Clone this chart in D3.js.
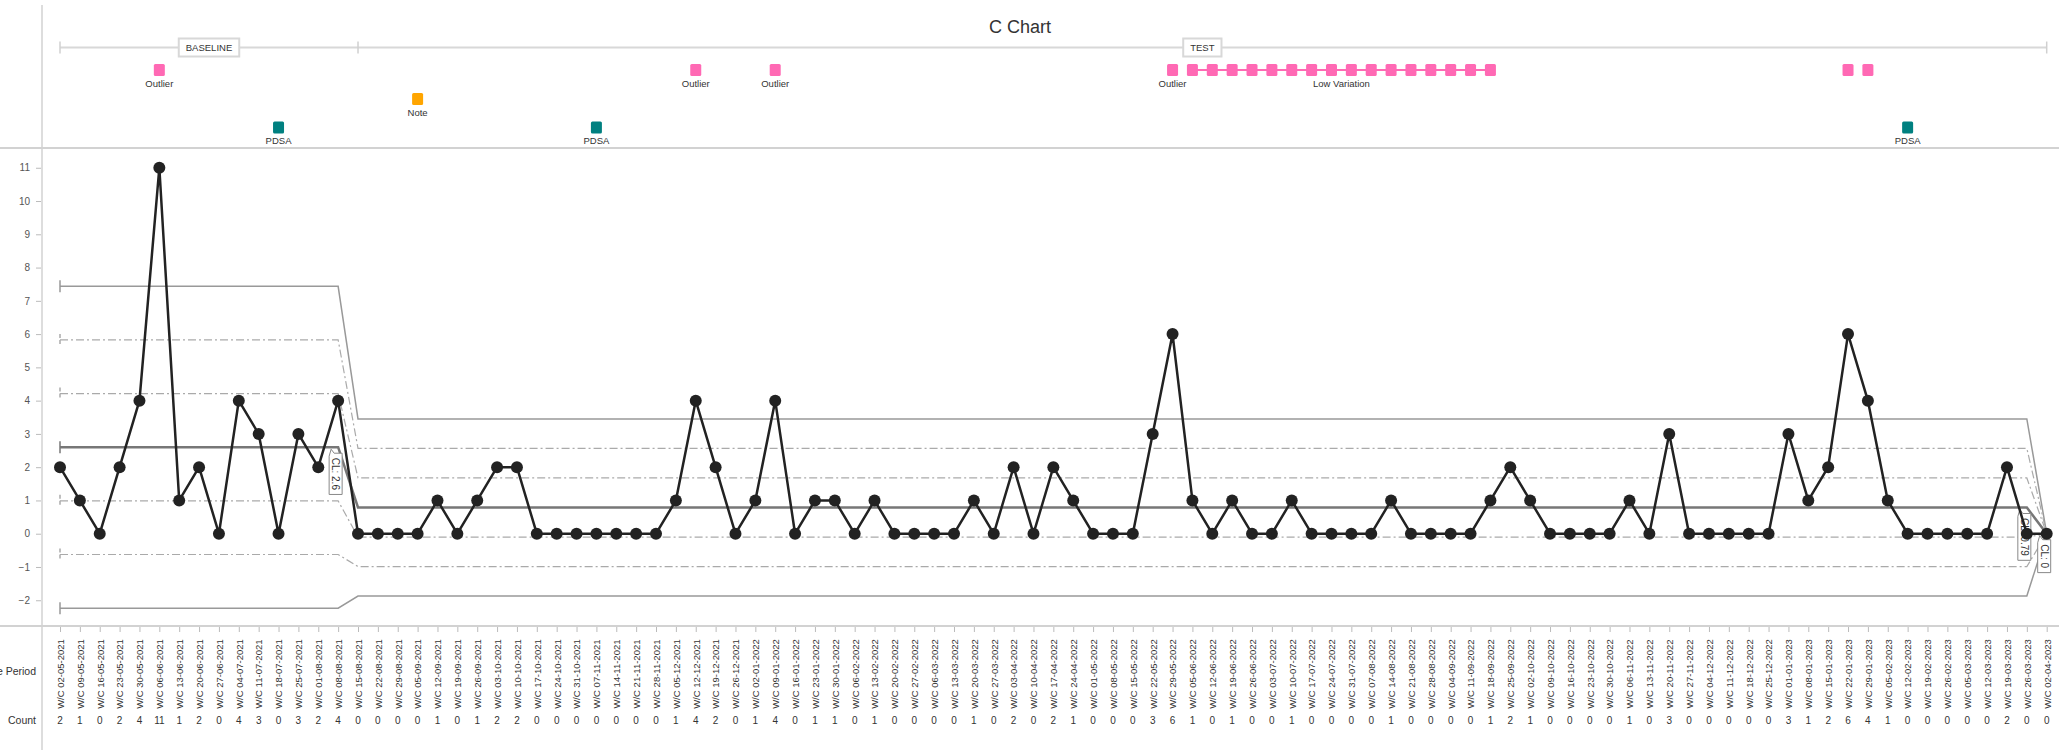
<!DOCTYPE html>
<html>
<head>
<meta charset="utf-8">
<script src="https://cdn.jsdelivr.net/npm/d3@7"></script>
<style>
  body { margin: 0; background: #fff; }
  svg { display: block; font-family: "Liberation Sans", Arial, sans-serif; }
</style>
</head>
<body>
<svg id="chart" width="2059" height="750"></svg>
<script>
"use strict";

// weekly categories
const weeks = [
    "W/C 02-05-2021", "W/C 09-05-2021", "W/C 16-05-2021", "W/C 23-05-2021", "W/C 30-05-2021",
    "W/C 06-06-2021", "W/C 13-06-2021", "W/C 20-06-2021", "W/C 27-06-2021", "W/C 04-07-2021",
    "W/C 11-07-2021", "W/C 18-07-2021", "W/C 25-07-2021", "W/C 01-08-2021", "W/C 08-08-2021",
    "W/C 15-08-2021", "W/C 22-08-2021", "W/C 29-08-2021", "W/C 05-09-2021", "W/C 12-09-2021",
    "W/C 19-09-2021", "W/C 26-09-2021", "W/C 03-10-2021", "W/C 10-10-2021", "W/C 17-10-2021",
    "W/C 24-10-2021", "W/C 31-10-2021", "W/C 07-11-2021", "W/C 14-11-2021", "W/C 21-11-2021",
    "W/C 28-11-2021", "W/C 05-12-2021", "W/C 12-12-2021", "W/C 19-12-2021", "W/C 26-12-2021",
    "W/C 02-01-2022", "W/C 09-01-2022", "W/C 16-01-2022", "W/C 23-01-2022", "W/C 30-01-2022",
    "W/C 06-02-2022", "W/C 13-02-2022", "W/C 20-02-2022", "W/C 27-02-2022", "W/C 06-03-2022",
    "W/C 13-03-2022", "W/C 20-03-2022", "W/C 27-03-2022", "W/C 03-04-2022", "W/C 10-04-2022",
    "W/C 17-04-2022", "W/C 24-04-2022", "W/C 01-05-2022", "W/C 08-05-2022", "W/C 15-05-2022",
    "W/C 22-05-2022", "W/C 29-05-2022", "W/C 05-06-2022", "W/C 12-06-2022", "W/C 19-06-2022",
    "W/C 26-06-2022", "W/C 03-07-2022", "W/C 10-07-2022", "W/C 17-07-2022", "W/C 24-07-2022",
    "W/C 31-07-2022", "W/C 07-08-2022", "W/C 14-08-2022", "W/C 21-08-2022", "W/C 28-08-2022",
    "W/C 04-09-2022", "W/C 11-09-2022", "W/C 18-09-2022", "W/C 25-09-2022", "W/C 02-10-2022",
    "W/C 09-10-2022", "W/C 16-10-2022", "W/C 23-10-2022", "W/C 30-10-2022", "W/C 06-11-2022",
    "W/C 13-11-2022", "W/C 20-11-2022", "W/C 27-11-2022", "W/C 04-12-2022", "W/C 11-12-2022",
    "W/C 18-12-2022", "W/C 25-12-2022", "W/C 01-01-2023", "W/C 08-01-2023", "W/C 15-01-2023",
    "W/C 22-01-2023", "W/C 29-01-2023", "W/C 05-02-2023", "W/C 12-02-2023", "W/C 19-02-2023",
    "W/C 26-02-2023", "W/C 05-03-2023", "W/C 12-03-2023", "W/C 19-03-2023", "W/C 26-03-2023",
    "W/C 02-04-2023"
];

// weekly counts
const counts = [
    2, 1, 0, 2, 4, 11, 1, 2, 0, 4, 3, 0, 3, 2, 4,
    0, 0, 0, 0, 1, 0, 1, 2, 2, 0, 0, 0, 0, 0, 0, 0, 1, 4,
    2, 0, 1, 4, 0, 1, 1, 0, 1, 0, 0, 0, 0, 1, 0, 2, 0, 2, 1, 0, 0, 0, 3, 6, 1, 0, 1, 0, 0, 1, 0, 0, 0, 0,
    1, 0, 0, 0, 0, 1, 2, 1, 0, 0, 0, 0, 1, 0, 3, 0, 0, 0, 0, 0, 3, 1, 2, 6, 4, 1, 0, 0, 0, 0, 0, 2, 0,
    0
];

// periods (index of first week) and where the limits are recalculated
const periodNames = ["BASELINE", "TEST"];
const periodStarts = [0, 15];
const limitStarts = [0, 15, 100];

// annotations (week indexes)
const outlierWeeks = [5, 32, 36, 56];
const lowVariationWeeks = [57, 58, 59, 60, 61, 62, 63, 64, 65, 66, 67, 68, 69, 70, 71, 72];
const flaggedWeeks = [90, 91];
const noteWeeks = [18];
const pdsaWeeks = [11, 27, 93];

const yTicks = [-2, -1, 0, 1, 2, 3, 4, 5, 6, 7, 8, 9, 10, 11];

const WIDTH = 2059;
const HEIGHT = 750;
const PLOT_TOP = 148;
const PLOT_BOTTOM = 626;
const AXIS_X = 42;
const GRID = "#d2d2d2";
const PINK = "#ff69b4";
const ORANGE = "#ffa500";
const TEAL = "#008080";

const svg = d3.select("#chart");

const x = d3.scaleLinear().domain([0, counts.length - 1]).range([60, 2046.7]);
const y = d3.scaleLinear().domain([-2.774, 11.594]).range([PLOT_BOTTOM, PLOT_TOP]);

/* frame lines */
svg.append("line").attr("x1", 0).attr("x2", WIDTH)
    .attr("y1", PLOT_TOP).attr("y2", PLOT_TOP)
    .attr("stroke", GRID).attr("stroke-width", 2);
svg.append("line").attr("x1", 0).attr("x2", WIDTH)
    .attr("y1", PLOT_BOTTOM).attr("y2", PLOT_BOTTOM)
    .attr("stroke", GRID).attr("stroke-width", 2);
svg.append("line").attr("x1", AXIS_X).attr("x2", AXIS_X)
    .attr("y1", 5).attr("y2", HEIGHT)
    .attr("stroke", GRID).attr("stroke-width", 1.5);

/* title */
svg.append("text")
    .attr("x", 1020).attr("y", 33)
    .attr("text-anchor", "middle")
    .attr("font-size", 18).attr("fill", "#333")
    .text("C Chart");

/* period bar */
const PERIOD_Y = 47.5;
const lastIdx = counts.length - 1;
svg.append("line")
    .attr("x1", x(0)).attr("x2", x(lastIdx))
    .attr("y1", PERIOD_Y).attr("y2", PERIOD_Y)
    .attr("stroke", "#d8d8d8").attr("stroke-width", 2);
[...periodStarts, lastIdx].forEach((i) => {
    svg.append("line")
        .attr("x1", x(i)).attr("x2", x(i))
        .attr("y1", PERIOD_Y - 6).attr("y2", PERIOD_Y + 6)
        .attr("stroke", "#d0d0d0").attr("stroke-width", 1.5);
});
periodNames.forEach((name, k) => {
    const s = periodStarts[k];
    const e = k + 1 < periodStarts.length ? periodStarts[k + 1] : lastIdx;
    const cx = (x(s) + x(e)) / 2;
    const g = svg.append("g");
    const rect = g.append("rect").attr("fill", "#fff")
        .attr("stroke", "#d8d8d8").attr("stroke-width", 2);
    const t = g.append("text")
        .attr("x", cx).attr("y", PERIOD_Y + 3.5)
        .attr("text-anchor", "middle")
        .attr("font-size", 9.5).attr("fill", "#333")
        .text(name);
    const w = t.node().getComputedTextLength() + 14;
    rect.attr("x", cx - w / 2).attr("y", PERIOD_Y - 9)
        .attr("width", w).attr("height", 18);
});

/* annotation rows */
const ROWS = [70, 99, 127.5];
const annotations = svg.append("g");

const addMarker = (i, cy, color) => {
    annotations.append("rect")
        .attr("x", x(i) - 5.5).attr("y", cy - 6)
        .attr("width", 11).attr("height", 12)
        .attr("rx", 1.5)
        .attr("fill", color);
};
const addLabel = (cx, cy, text) => {
    annotations.append("text")
        .attr("x", cx).attr("y", cy + 16.5)
        .attr("text-anchor", "middle")
        .attr("font-size", 9.5).attr("fill", "#333")
        .text(text);
};

annotations.append("line")
    .attr("x1", x(lowVariationWeeks[0]))
    .attr("x2", x(lowVariationWeeks[lowVariationWeeks.length - 1]))
    .attr("y1", ROWS[0]).attr("y2", ROWS[0])
    .attr("stroke", PINK).attr("stroke-width", 2);
lowVariationWeeks.forEach((i) => addMarker(i, ROWS[0], PINK));
addLabel(
    (x(lowVariationWeeks[0]) + x(lowVariationWeeks[lowVariationWeeks.length - 1])) / 2,
    ROWS[0],
    "Low Variation"
);
outlierWeeks.forEach((i) => {
    addMarker(i, ROWS[0], PINK);
    addLabel(x(i), ROWS[0], "Outlier");
});
flaggedWeeks.forEach((i) => addMarker(i, ROWS[0], PINK));
noteWeeks.forEach((i) => {
    addMarker(i, ROWS[1], ORANGE);
    addLabel(x(i), ROWS[1], "Note");
});
pdsaWeeks.forEach((i) => {
    addMarker(i, ROWS[2], TEAL);
    addLabel(x(i), ROWS[2], "PDSA");
});

/* y axis */
const yAxis = svg.append("g")
    .attr("transform", `translate(${AXIS_X - 1},0)`)
    .call(d3.axisLeft(y).tickValues(yTicks).tickSize(5).tickPadding(6));
yAxis.select(".domain").remove();
yAxis.selectAll(".tick line").attr("stroke", "#bbb");
yAxis.selectAll(".tick text")
    .attr("fill", "#555").attr("font-size", 10)
    .attr("font-family", "\"Liberation Sans\", Arial, sans-serif");

/* x axis with rotated week labels */
const xAxis = svg.append("g")
    .attr("transform", `translate(0,${PLOT_BOTTOM + 1})`)
    .call(d3.axisBottom(x)
        .tickValues(d3.range(counts.length))
        .tickSize(5)
        .tickFormat((i) => weeks[i]));
xAxis.select(".domain").remove();
xAxis.selectAll(".tick line").attr("stroke", "#bbb");
xAxis.selectAll(".tick text")
    .attr("transform", "rotate(-90)")
    .attr("x", -47).attr("y", 0).attr("dy", "0.35em")
    .attr("text-anchor", "middle")
    .attr("fill", "#333").attr("font-size", 9.5)
    .attr("font-family", "\"Liberation Sans\", Arial, sans-serif");

svg.append("g").selectAll("text")
    .data(counts)
    .join("text")
    .attr("x", (d, i) => x(i)).attr("y", 723.5)
    .attr("text-anchor", "middle")
    .attr("font-size", 10).attr("fill", "#333")
    .text((d) => d);

svg.append("text")
    .attr("x", 36).attr("y", 674.5)
    .attr("text-anchor", "end")
    .attr("font-size", 10.5).attr("fill", "#333")
    .text("Time Period");
svg.append("text")
    .attr("x", 36).attr("y", 723.5)
    .attr("text-anchor", "end")
    .attr("font-size", 10.5).attr("fill", "#333")
    .text("Count");

/* control limits */
const segments = limitStarts.map((s, k) => {
    const e = (k + 1 < limitStarts.length ? limitStarts[k + 1] : counts.length) - 1;
    const cl = d3.mean(counts.slice(s, e + 1));
    return { s, e, cl, sd: Math.sqrt(cl) };
});
const segmentOf = (i) => segments.find((seg) => i >= seg.s && i <= seg.e);

const limitStyles = [
    { k: 3, stroke: "#999", width: 1.5, dash: null },
    { k: 2, stroke: "#aaa", width: 1.2, dash: "8,3,2,3" },
    { k: 1, stroke: "#aaa", width: 1.2, dash: "8,3,2,3" },
    { k: 0, stroke: "#777", width: 2.5, dash: null },
    { k: -1, stroke: "#aaa", width: 1.2, dash: "8,3,2,3" },
    { k: -2, stroke: "#aaa", width: 1.2, dash: "8,3,2,3" },
    { k: -3, stroke: "#999", width: 1.5, dash: null }
];
const limitLine = d3.line().x((d) => x(d.i)).y((d) => y(d.v));
const limits = svg.append("g").attr("fill", "none");
limitStyles.forEach((ls) => {
    const pts = counts.map((c, i) => {
        const seg = segmentOf(i);
        return { i, v: seg.cl + ls.k * seg.sd };
    });
    limits.append("path")
        .datum(pts)
        .attr("d", limitLine)
        .attr("stroke", ls.stroke)
        .attr("stroke-width", ls.width)
        .attr("stroke-dasharray", ls.dash);
    limits.append("line")
        .attr("x1", x(0)).attr("x2", x(0))
        .attr("y1", y(pts[0].v) - 6).attr("y2", y(pts[0].v) + 6)
        .attr("stroke", ls.stroke)
        .attr("stroke-width", 1.5)
        .attr("stroke-dasharray", ls.dash ? "4,2" : null);
});

/* CL callouts */
const fmtCL = (v) => `CL: ${Math.round(v * 100) / 100}`;
segments.forEach((seg) => {
    const px = x(seg.e);
    const cy = y(seg.cl);
    const g = svg.append("g");
    const box = g.append("path")
        .attr("fill", "#fff").attr("stroke", "#888").attr("stroke-width", 1);
    const t = g.append("text")
        .attr("font-size", 10).attr("fill", "#333")
        .attr("text-anchor", "middle")
        .text(fmtCL(seg.cl));
    const len = t.node().getComputedTextLength();
    const left = px - 9;
    const right = px + 4;
    const top = cy + 6;
    const bottom = top + len + 9;
    box.attr("d", `M${left},${top + 3} L${left + 2},${top - 4} L${left + 5},${top}` +
        ` L${right},${top} L${right},${bottom} L${left},${bottom} Z`);
    t.attr("transform", `translate(${(left + right) / 2},${(top + bottom) / 2}) rotate(90)`)
        .attr("dy", "0.35em");
});

/* data */
const dataLine = d3.line().x((d, i) => x(i)).y((d) => y(d));
svg.append("path")
    .datum(counts)
    .attr("d", dataLine)
    .attr("fill", "none")
    .attr("stroke", "#222")
    .attr("stroke-width", 2.5)
    .attr("stroke-linejoin", "round");
svg.append("g").selectAll("circle")
    .data(counts)
    .join("circle")
    .attr("cx", (d, i) => x(i))
    .attr("cy", (d) => y(d))
    .attr("r", 6)
    .attr("fill", "#222");
</script>
</body>
</html>
